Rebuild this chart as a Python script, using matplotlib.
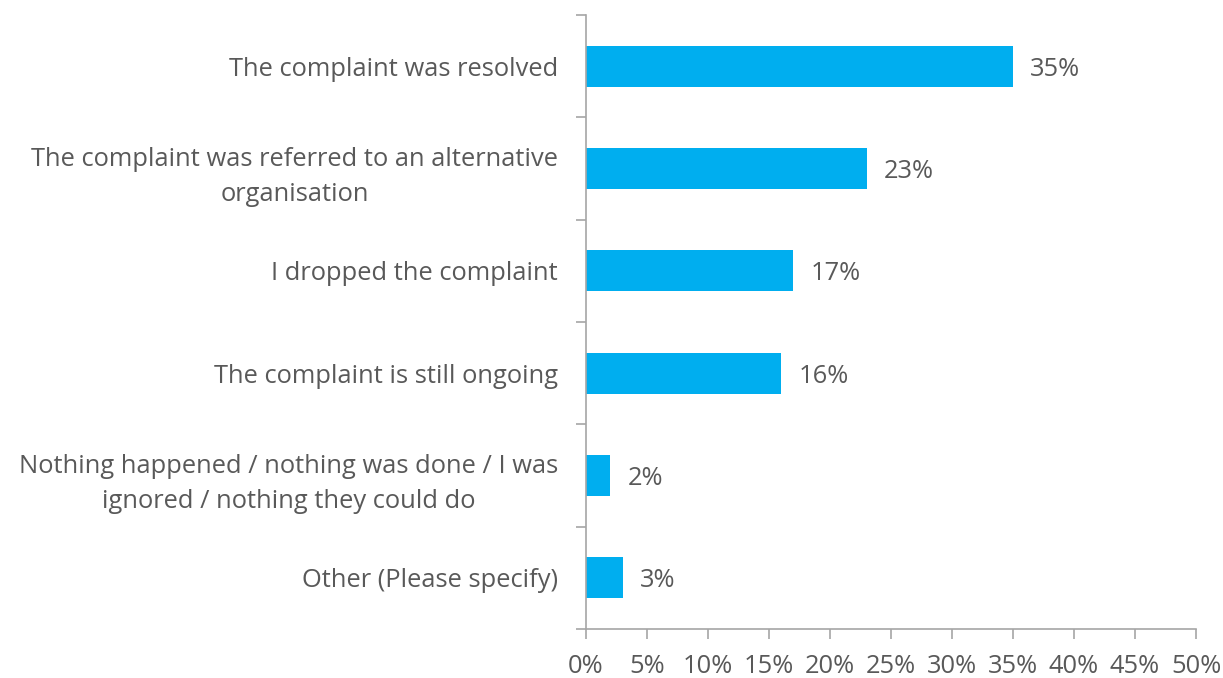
import matplotlib.pyplot as plt
import numpy as np
from matplotlib.ticker import FixedLocator

# Survey outcome shares
categories = [
    "The complaint was resolved",
    "The complaint was referred to an alternative\norganisation",
    "I dropped the complaint",
    "The complaint is still ongoing",
    "Nothing happened / nothing was done / I was\nignored / nothing they could do",
    "Other (Please specify)",
]
values = [35, 23, 17, 16, 2, 3]
x_ticks = [0, 5, 10, 15, 20, 25, 30, 35, 40, 45, 50]

BAR_COLOR = "#00AEEF"
TEXT_COLOR = "#595959"
AXIS_COLOR = "#A6A6A6"
FS = 18.4

plt.rcParams["font.family"] = ["Open Sans", "DejaVu Sans"]

fig = plt.figure(figsize=(12.23, 6.78), dpi=100)
ax = fig.add_axes([586 / 1223, 1 - 629 / 678, 610 / 1223, 614 / 678])

y = np.arange(len(categories))
ax.barh(y, values, height=0.4, color=BAR_COLOR)

for yi, v in zip(y, values):
    ax.text(v + 1.4, yi + 0.03, f"{v}%", va="center", ha="left",
            fontsize=FS, color=TEXT_COLOR)

ax.set_xlim(0, 50)
ax.set_ylim(len(categories) - 0.5, -0.5)

ax.set_xticks(x_ticks)
ax.set_xticklabels([f"{t}%" for t in x_ticks])

ax.set_yticks(y)
ax.set_yticklabels(categories, multialignment="center", linespacing=1.55)
ax.yaxis.set_minor_locator(FixedLocator(np.arange(-0.5, len(categories), 1)))

ax.tick_params(axis="y", which="major", length=0, pad=20,
               labelsize=FS, labelcolor=TEXT_COLOR)
ax.tick_params(axis="y", which="minor", length=7, width=1.2, color=AXIS_COLOR)
ax.tick_params(axis="x", length=7, width=1.2, color=AXIS_COLOR, pad=11,
               labelsize=FS, labelcolor=TEXT_COLOR)

for side in ("top", "right"):
    ax.spines[side].set_visible(False)
for side in ("left", "bottom"):
    ax.spines[side].set_color(AXIS_COLOR)
    ax.spines[side].set_linewidth(1.2)

fig.savefig("out.png", dpi=100)
